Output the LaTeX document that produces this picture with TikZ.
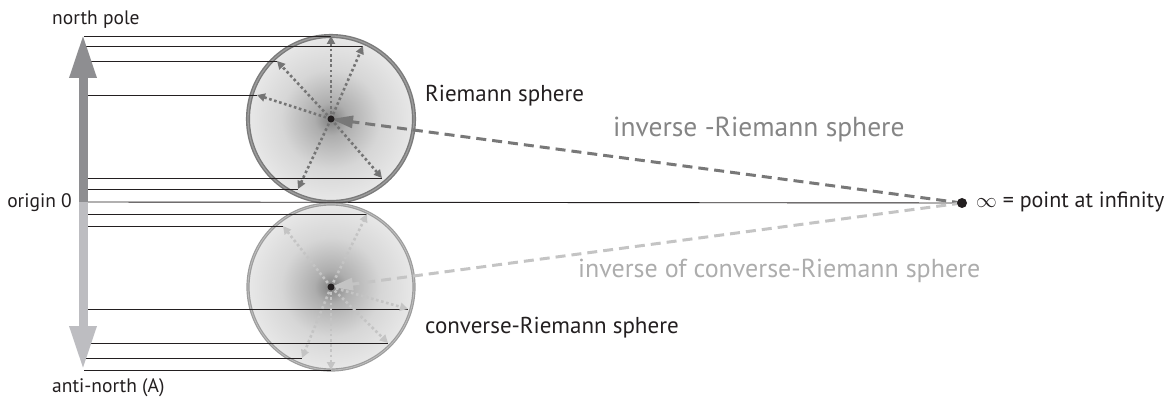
\documentclass[tikz,border=0pt]{standalone}
\usepackage{fontspec}
\setmainfont{PT Sans}
\usetikzlibrary{arrows.meta}
\definecolor{inkblack}{HTML}{231F20}
\definecolor{northgray}{HTML}{8E8E91}
\definecolor{southgray}{HTML}{BDBDC1}
\definecolor{rimdark}{HTML}{7A7A7A}
\definecolor{rimlight}{HTML}{9C9C9C}
\definecolor{raydark}{HTML}{747474}
\definecolor{raylight}{HTML}{C4C4C4}
\definecolor{invdark}{HTML}{858585}
\definecolor{invlight}{HTML}{ADADAD}
\pgfdeclareradialshading{sphere}{\pgfpoint{0bp}{0bp}}{color(0bp)=(black!50); color(5bp)=(black!32); color(15bp)=(black!16); color(28bp)=(black!7); color(40bp)=(black!3); color(50bp)=(black!2)}
\tikzset{
  proj/.style={line width=0.9pt,inkblack},
  ray/.style={line width=2.6pt,dash pattern=on 2.6pt off 2.6pt,-{Triangle[length=8pt,width=8pt]}},
  inv/.style={line width=3pt,dash pattern=on 10pt off 6pt,-{Triangle[length=22pt,width=12pt]}},
  small/.style={font=\fontsize{19.5}{22}\selectfont,text=inkblack,inner sep=0pt},
  mid/.style={font=\fontsize{23}{25}\selectfont,text=inkblack,inner sep=0pt},
  big/.style={font=\fontsize{27.5}{30}\selectfont,inner sep=0pt},
}
\begin{document}
\begin{tikzpicture}[x=1pt,y=-1pt]
\useasboundingbox (0,0) rectangle (1173,398);
% centres, poles and infinity
\coordinate (upc) at (331,119);
\coordinate (lowc) at (331,287);
\coordinate (orig) at (84,202);
\coordinate (npole) at (83,34);
\coordinate (apole) at (83,370);
\coordinate (inf) at (962,203);
% ends of the rays
\coordinate (u1) at (331,36);  \coordinate (u2) at (363,46);
\coordinate (u3) at (277,61);  \coordinate (u4) at (257,95);
\coordinate (u5) at (382,178); \coordinate (u6) at (298,189);
\coordinate (l1) at (367,214); \coordinate (l2) at (283,226);
\coordinate (l3) at (408,309); \coordinate (l4) at (388,343);
\coordinate (l5) at (302,358); \coordinate (l6) at (331,370);

\shade[shading=sphere] (upc) circle (83);
\draw[rimdark,line width=1.4pt,double=rimlight,double distance=1.3pt] (upc) circle (83);
\shade[shading=sphere] (lowc) circle (83);
\draw[rimlight,line width=1.2pt,double=black!25,double distance=0.8pt] (lowc) circle (83);

\foreach \p in {u1,u2,u3,u4,u5,u6,l1,l2,l3,l4,l5,l6}
  \draw[proj] (orig |- \p) -- (\p);
\draw[proj] (orig) -- (inf);

\foreach \p in {u1,u2,u3,u4,u5,u6} \draw[ray,raydark] (upc) -- (\p);
\foreach \p in {l1,l2,l3,l4,l5,l6} \draw[ray,raylight] (lowc) -- (\p);

\draw[inv,invdark!90!black] (inf) -- (upc);
\draw[inv,raylight] (inf) -- (lowc);

\draw[line width=9pt,northgray,-{Triangle[length=44pt,width=25pt]}] (orig -| npole) -- (npole);
\draw[line width=9pt,southgray,-{Triangle[length=44pt,width=25pt]}] (orig -| apole) -- (apole);

\fill[inkblack] (upc) circle (3.5);
\fill[inkblack] (lowc) circle (3.5);
\fill[inkblack] (inf) circle (5);

\node[small,anchor=base west] (np) at (52,25) {north pole};
\node[small,anchor=base east] (o0) at (72,208) {origin 0};
\node[small,anchor=base west] (an) at (52,392) {anti-north (A)};
\node[mid,anchor=base west] (rs) at (425,102) {Riemann sphere};
\node[mid,anchor=base west] (crs) at (425,333) {converse-Riemann sphere};
\node[big,text=invdark,anchor=base west] (irs) at (613,137) {inverse -Riemann sphere};
\node[big,font=\fontsize{26}{28}\selectfont,text=invlight,anchor=base west] (icrs) at (578,277) {inverse of converse-Riemann sphere};
\node[mid,font=\fontsize{22}{24}\selectfont,anchor=base west] (pinf) at (976,208) {$\infty$ = point at infinity};
\end{tikzpicture}
\end{document}
